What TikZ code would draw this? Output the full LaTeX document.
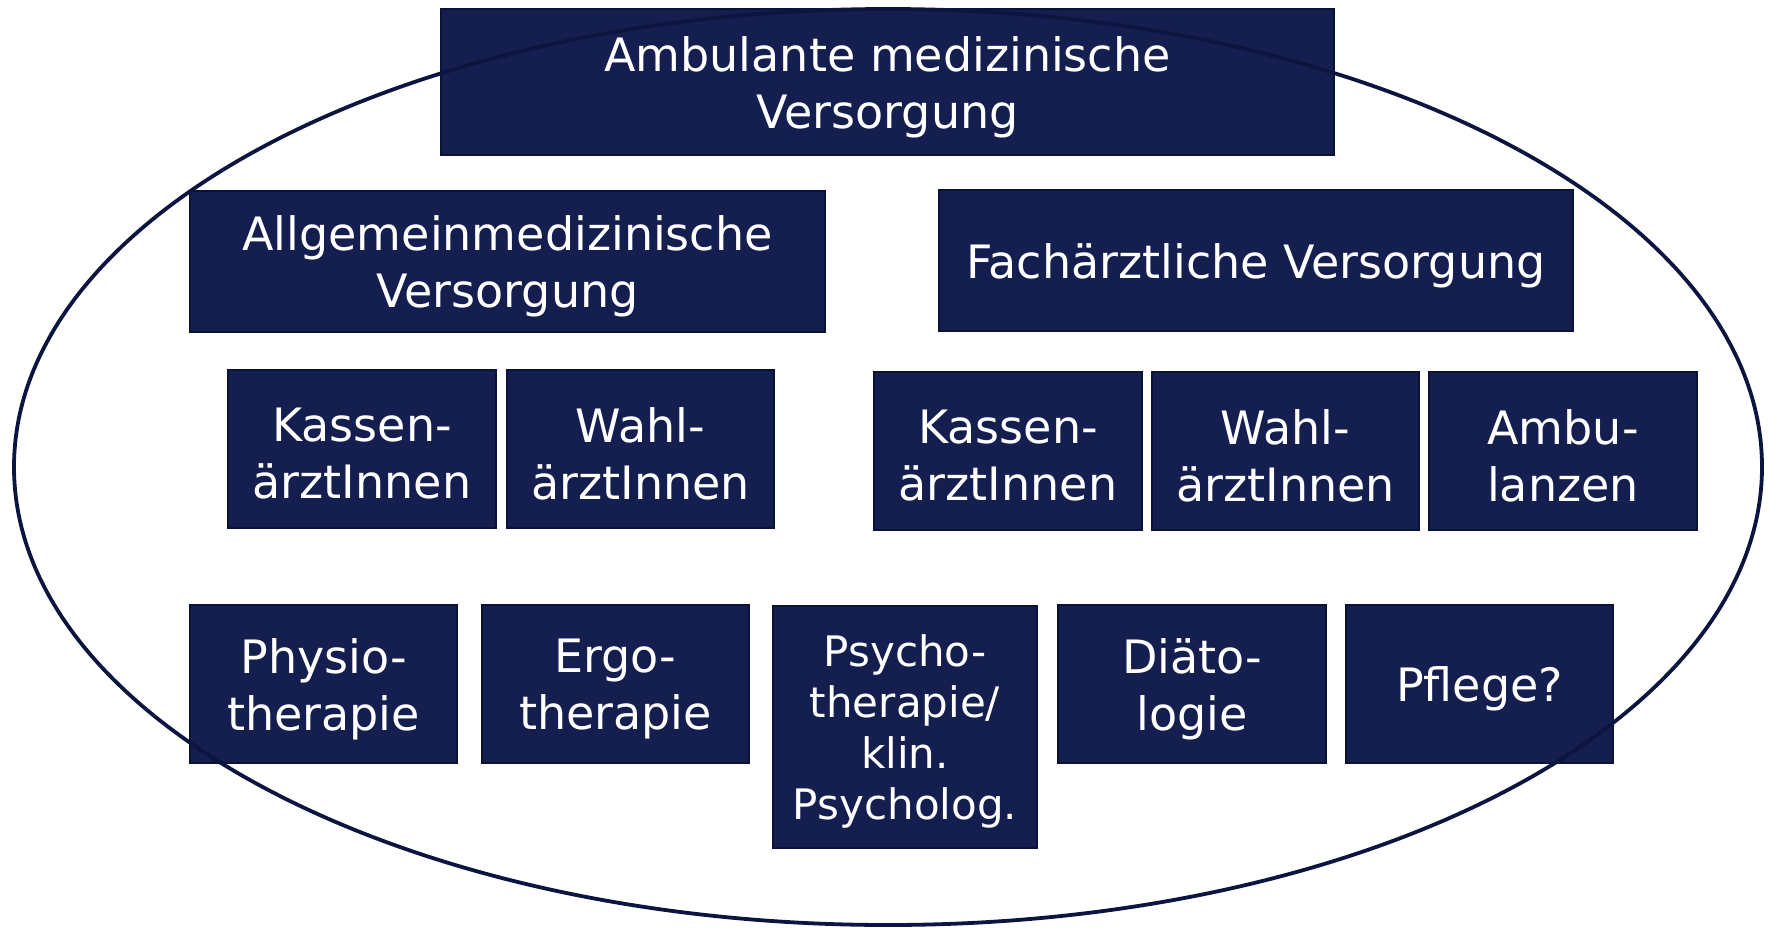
\documentclass[tikz,border=0pt]{standalone}
\usepackage{fontspec}
\setmainfont{DejaVu Sans}
\definecolor{navy}{HTML}{141E4F}
\definecolor{navyline}{HTML}{0C1540}
\definecolor{navyedge}{HTML}{0A1238}
\begin{document}
\begin{tikzpicture}[x=1pt,y=-1pt,
  box/.style={fill=navy,draw=navyedge,line width=1.2pt,text=white,align=center,inner sep=0pt,
    font=\fontsize{46}{57}\selectfont},
  txt/.style={text=white,align=center,inner sep=0pt,font=\fontsize{46}{57}\selectfont},
]
\useasboundingbox (0,0) rectangle (1769,929);
\node[box,minimum width=893pt,minimum height=146pt] (top) at (887.5,82) {};
\node[txt] (topt) at (887.5,87) {Ambulante medizinische\\Versorgung};
\node[box,minimum width=635pt,minimum height=141pt] (allg) at (507.5,261.5) {};
\node[txt] (allgt) at (507.5,266.5) {Allgemeinmedizinische\\Versorgung};
\node[box,minimum width=634pt,minimum height=141pt] (fach) at (1256,260.5) {};
\node[txt] (facht) at (1256,265.5) {Fachärztliche Versorgung};
\node[box,minimum width=268pt,minimum height=158pt] (kl) at (362,449) {};
\node[txt] (klt) at (362,454) {Kassen-\\ärztInnen};
\node[box,minimum width=267pt,minimum height=158pt] (wl) at (640.5,449) {};
\node[txt] (wlt) at (640.5,454) {Wahl-\\ärztInnen};
\node[box,minimum width=268pt,minimum height=158pt] (kr) at (1008,451) {};
\node[txt] (krt) at (1008,456) {Kassen-\\ärztInnen};
\node[box,minimum width=267pt,minimum height=158pt] (wr) at (1285.5,451) {};
\node[txt] (wrt) at (1285.5,456) {Wahl-\\ärztInnen};
\node[box,minimum width=268pt,minimum height=158pt] (ambu) at (1563,451) {};
\node[txt] (ambut) at (1563,456) {Ambu-\\lanzen};
\node[box,minimum width=267pt,minimum height=158pt] (physio) at (323.5,684) {};
\node[txt] (physiot) at (323.5,689) {Physio-\\therapie};
\node[box,minimum width=267pt,minimum height=158pt] (ergo) at (615.5,684) {};
\node[txt] (ergot) at (615.5,689) {Ergo-\\therapie};
\node[box,minimum width=264pt,minimum height=242pt] (psy) at (905,727) {};
\node[txt,font=\fontsize{42}{51}\selectfont] (psyt) at (905,731) {Psycho-\\therapie/\\klin.\\Psycholog.};
\node[box,minimum width=268pt,minimum height=158pt] (diaet) at (1192,684) {};
\node[txt] (diaett) at (1192,689) {Diäto-\\logie};
\node[box,minimum width=267pt,minimum height=158pt] (pflege) at (1479.5,684) {};
\node[txt] (pfleget) at (1479.5,689) {Pflege?};
\draw[navyline,line width=3.8pt] (888,467) ellipse [x radius=874, y radius=458];
\end{tikzpicture}
\end{document}
